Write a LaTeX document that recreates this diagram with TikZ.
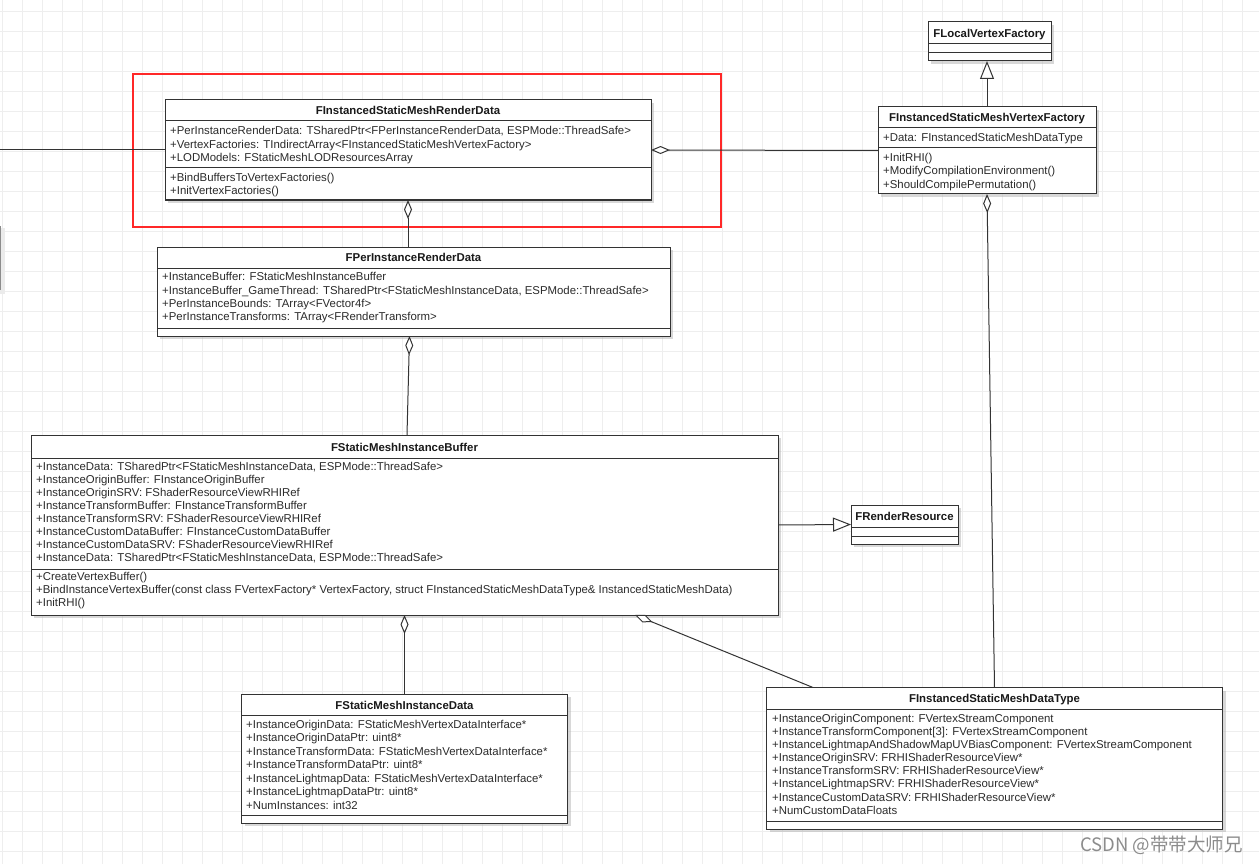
\documentclass[tikz,border=0pt]{standalone}
\usepackage{fontspec}
\setmainfont{Liberation Sans}
\newfontfamily\cjk{Noto Sans CJK SC}
\usetikzlibrary{arrows.meta,shadows}

\definecolor{umlline}{RGB}{51,51,51}
\definecolor{umltext}{RGB}{43,43,43}
\definecolor{gridgray}{RGB}{238,238,238}
\definecolor{focusred}{RGB}{255,40,40}
\newcommand{\umlfont}{\fontsize{11.4}{13.5}\selectfont}

\tikzset{
  classbox/.style={draw=umlline, fill=white, line width=1pt, inner sep=0pt, outer sep=0pt,
    anchor=north west, drop shadow={shadow xshift=3pt, shadow yshift=-3pt, fill=black!30, opacity=0.5}},
  classname/.style={font=\umlfont\bfseries, text=black!90, anchor=base, inner sep=0pt},
  member/.style={font=\umlfont, text=umltext, anchor=base west, inner sep=0pt},
  sepline/.style={draw=umlline, line width=1pt},
  assoc/.style={draw=umlline, line width=1pt},
  aggr/.style={assoc, {Diamond[length=19pt, width=8pt, fill=white]}-},
  inherit/.style={assoc, -{Triangle[length=18pt, width=14pt, fill=white]}},
  gridline/.style={draw=gridgray, line width=0.8pt},
  redframe/.style={draw=focusred, line width=1.5pt},
}

\begin{document}
\begin{tikzpicture}[x=1pt, y=-1pt]

    % Page and grid
    \useasboundingbox (0,0) rectangle (1259,864);
    \fill[white] (0,0) rectangle (1259,864);
    \foreach \gx in {2,22,...,1259} \draw[gridline] (\gx,0) -- (\gx,864);
    \foreach \gy in {11,31,...,864} \draw[gridline] (0,\gy) -- (1259,\gy);

    % Box cut off at the left edge
    \fill[black!8] (0,228) rectangle (5,294);
    \draw[black!45] (0.5,226) -- (0.5,290);

    % Highlight frame
    \draw[redframe] (133,74) rectangle (721,227);

    % Class boxes
    \node[classbox, minimum width=123pt, minimum height=39pt] (local) at (928,22) {};
    \node[classbox, minimum width=218pt, minimum height=87pt] (vf) at (878,107) {};
    \node[classbox, minimum width=486pt, minimum height=100pt] (render) at (165,100) {};
    \node[classbox, minimum width=513pt, minimum height=89pt] (perinst) at (157,247) {};
    \node[classbox, minimum width=747pt, minimum height=180pt] (buffer) at (31,435) {};
    \node[classbox, minimum width=107pt, minimum height=39pt] (rr) at (851,505) {};
    \node[classbox, minimum width=326pt, minimum height=129pt] (idata) at (241.5,694) {};
    \node[classbox, minimum width=456pt, minimum height=141.5pt] (dtype) at (766.5,687.5) {};

    % Compartment separators
    \foreach \xa/\xb/\y in {928/1051/44, 928/1051/53, 878/1096/128, 878/1096/148,
        165/651/121, 165/651/168, 157/670/268.5, 157/670/328, 31/778/458, 31/778/569,
        851/958/527, 851/958/536.5, 241.5/567.5/715.5, 241.5/567.5/815,
        766.5/1222.5/709.5, 766.5/1222.5/821}
        \draw[sepline] (\xa,\y) -- (\xb,\y);

    % Class names
    \node[classname] (local-name) at (989.5,37.3) {FLocalVertexFactory};
    \node[classname] (vf-name) at (987,121.3) {FInstancedStaticMeshVertexFactory};
    \node[classname] (render-name) at (408,114.7) {FInstancedStaticMeshRenderData};
    \node[classname] (perinst-name) at (413.5,261.3) {FPerInstanceRenderData};
    \node[classname] (buffer-name) at (404.5,451.3) {FStaticMeshInstanceBuffer};
    \node[classname] (rr-name) at (904.5,520) {FRenderResource};
    \node[classname] (idata-name) at (404.5,709.3) {FStaticMeshInstanceData};
    \node[classname] (dtype-name) at (994.5,702) {FInstancedStaticMeshDataType};

    % FInstancedStaticMeshVertexFactory members
    \node[member] (vf-a0) at (883,141.3) {+Data: FInstancedStaticMeshDataType};
    \foreach \m [count=\i from 0] in {{+InitRHI()}, {+ModifyCompilationEnvironment()},
        {+ShouldCompilePermutation()}}
        \node[member] (vf-m\i) at (883,{161.3+13.4*\i}) {\m};

    % FInstancedStaticMeshRenderData members
    \foreach \m [count=\i from 0] in {
        {+PerInstanceRenderData: TSharedPtr<FPerInstanceRenderData, ESPMode::ThreadSafe>},
        {+VertexFactories: TIndirectArray<FInstancedStaticMeshVertexFactory>},
        {+LODModels: FStaticMeshLODResourcesArray}}
        \node[member] (render-a\i) at (170,{134.7+13.5*\i}) {\m};
    \foreach \m [count=\i from 0] in {{+BindBuffersToVertexFactories()}, {+InitVertexFactories()}}
        \node[member] (render-m\i) at (170,{181.3+13*\i}) {\m};

    % FPerInstanceRenderData members
    \foreach \m [count=\i from 0] in {
        {+InstanceBuffer: FStaticMeshInstanceBuffer},
        {+InstanceBuffer\_GameThread: TSharedPtr<FStaticMeshInstanceData, ESPMode::ThreadSafe>},
        {+PerInstanceBounds: TArray<FVector4f>},
        {+PerInstanceTransforms: TArray<FRenderTransform>}}
        \node[member] (perinst-a\i) at (162,{280.7+13.4*\i}) {\m};

    % FStaticMeshInstanceBuffer members
    \foreach \m [count=\i from 0] in {
        {+InstanceData: TSharedPtr<FStaticMeshInstanceData, ESPMode::ThreadSafe>},
        {+InstanceOriginBuffer: FInstanceOriginBuffer},
        {+InstanceOriginSRV: FShaderResourceViewRHIRef},
        {+InstanceTransformBuffer: FInstanceTransformBuffer},
        {+InstanceTransformSRV: FShaderResourceViewRHIRef},
        {+InstanceCustomDataBuffer: FInstanceCustomDataBuffer},
        {+InstanceCustomDataSRV: FShaderResourceViewRHIRef},
        {+InstanceData: TSharedPtr<FStaticMeshInstanceData, ESPMode::ThreadSafe>}}
        \node[member] (buffer-a\i) at (36,{470+13*\i}) {\m};
    \foreach \m [count=\i from 0] in {
        {+CreateVertexBuffer()},
        {+BindInstanceVertexBuffer(const class FVertexFactory* VertexFactory, struct FInstancedStaticMeshDataType\& InstancedStaticMeshData)},
        {+InitRHI()}}
        \node[member] (buffer-m\i) at (36,{580.7+13*\i}) {\m};

    % FStaticMeshInstanceData members
    \foreach \m [count=\i from 0] in {
        {+InstanceOriginData: FStaticMeshVertexDataInterface*},
        {+InstanceOriginDataPtr: uint8*},
        {+InstanceTransformData: FStaticMeshVertexDataInterface*},
        {+InstanceTransformDataPtr: uint8*},
        {+InstanceLightmapData: FStaticMeshVertexDataInterface*},
        {+InstanceLightmapDataPtr: uint8*},
        {+NumInstances: int32}}
        \node[member] (idata-a\i) at (246,{728.3+13.5*\i}) {\m};

    % FInstancedStaticMeshDataType members
    \foreach \m [count=\i from 0] in {
        {+InstanceOriginComponent: FVertexStreamComponent},
        {+InstanceTransformComponent[3]: FVertexStreamComponent},
        {+InstanceLightmapAndShadowMapUVBiasComponent: FVertexStreamComponent},
        {+InstanceOriginSRV: FRHIShaderResourceView*},
        {+InstanceTransformSRV: FRHIShaderResourceView*},
        {+InstanceLightmapSRV: FRHIShaderResourceView*},
        {+InstanceCustomDataSRV: FRHIShaderResourceView*},
        {+NumCustomDataFloats}}
        \node[member] (dtype-a\i) at (772,{722.7+13.05*\i}) {\m};

    % Connectors
    \coordinate (leftend) at (0,150);
    \draw[assoc] (leftend) -- (render.west);
    \draw[aggr] (render.east) -- (vf.west);
    \draw[inherit] (vf.north) -- (vf.north |- local.south);
    \draw[aggr] (vf.south) -- (dtype.north);
    \draw[aggr] (render.south) -- (render.south |- perinst.north);
    \draw[aggr] ([xshift=-4pt]perinst.south) -- ([xshift=2.5pt]buffer.north);
    \draw[inherit] (buffer.east) -- (rr.west);
    \draw[aggr] (buffer.south) -- (idata.north);
    \draw[aggr] ([xshift=-143pt]buffer.south east) -- ([xshift=46.5pt]dtype.north west);

    % Watermark
    \node[font=\cjk\fontsize{18.5}{18.5}\selectfont, text=black!45, anchor=base east, inner sep=0pt]
        (watermark) at (1243,851.5) {CSDN @带带大师兄};

\end{tikzpicture}
\end{document}
